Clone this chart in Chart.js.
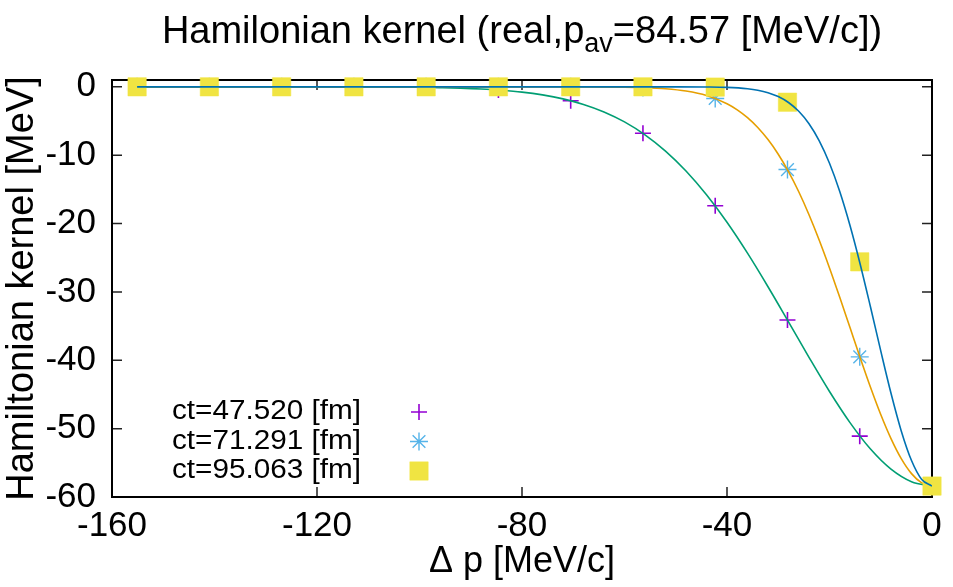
<!DOCTYPE html>
<html>
<head>
<meta charset="utf-8">
<title>Hamilonian kernel</title>
<script src="https://cdn.jsdelivr.net/npm/chart.js@4.4.0/dist/chart.umd.min.js"></script>
<style>
    html, body { margin: 0; padding: 0; background: #fff; }
    #wrap { width: 953px; height: 587px; position: relative; }
</style>
</head>
<body>
<div id="wrap"><canvas id="kernelChart"></canvas></div>
<script>
// ============================================================
// DATA
// ============================================================
const xTicks = [-160, -120, -80, -40, 0];
const yTicks = [0, -10, -20, -30, -40, -50, -60];

// momentum transfer of the sampled points
const pointX = [-155.1, -141.0, -126.9, -112.8, -98.7, -84.6, -70.5, -56.4, -42.3, -28.2, -14.1, 0];
const kernelCt1 = [0, 0, 0, -0.01, -0.08, -0.46, -2.03, -6.8, -17.4, -34.1, -51.1, -58.4];
const kernelCt2 = [0, 0, 0, 0, 0, 0, 0, -0.11, -1.7, -12.1, -39.5, -58.4];
const kernelCt3 = [0, 0, 0, 0, 0, 0, 0, 0, -0.04, -2.25, -25.6, -58.4];

// fitted curves
const fitX1 = [-155.1, -140, -120, -110, -100, -96, -92, -88, -84, -80, -76, -72, -68, -64, -60,
    -56, -52, -48, -44, -40, -36, -32, -28, -24, -20, -16, -12, -8, -4, 0];
const fitY1 = [0, 0, 0, -0.02, -0.07, -0.12, -0.19, -0.31, -0.50, -0.77, -1.18, -1.76, -2.57, -3.67, -5.13,
    -7.02, -9.40, -12.31, -15.79, -19.81, -24.33, -29.24, -34.38, -39.57, -44.57, -49.12, -52.99, -55.93, -57.77, -58.4];

const fitX2 = [-155.1, -100, -70, -60, -56, -52, -48, -44, -40, -38, -36, -34, -32, -30, -28,
    -26, -24, -22, -20, -18, -16, -14, -12, -10, -8, -6, -4, -2, 0];
const fitY2 = [0, 0, 0, -0.05, -0.12, -0.28, -0.62, -1.27, -2.47, -3.37, -4.51, -5.95, -7.72, -9.86, -12.40,
    -15.35, -18.71, -22.44, -26.49, -30.79, -35.22, -39.65, -43.94, -47.93, -51.46, -54.39, -56.58, -57.94, -58.4];

const fitX3 = [-155.1, -100, -60, -50, -44, -40, -36, -34, -32, -30, -28, -26, -24, -22, -20,
    -18, -16, -14, -12, -10, -8, -6, -4, -2, 0];
const fitY3 = [0, 0, 0, 0, -0.02, -0.08, -0.28, -0.49, -0.85, -1.42, -2.29, -3.58, -5.40, -7.90, -11.18,
    -15.31, -20.28, -25.98, -32.21, -38.63, -44.83, -50.33, -54.66, -57.44, -58.4];

const seriesLabels = ['ct=47.520 [fm]', 'ct=71.291 [fm]', 'ct=95.063 [fm]'];

// ============================================================
// STYLE
// ============================================================
const FONT = "'Liberation Sans', Arial, Helvetica, sans-serif";
const colors = {
    purple: '#9400d3',
    green: '#009e73',
    skyblue: '#56b4e9',
    orange: '#e69f00',
    yellow: '#f0e442',
    blue: '#0072b2'
};

function toPoints(xs, ys) {
    return xs.map((x, i) => ({ x: x, y: ys[i] }));
}

function pointSet(label, ys, style, color, radius, width, order) {
    return {
        label: label,
        data: toPoints(pointX, ys),
        showLine: false,
        pointStyle: style,
        pointRadius: radius,
        pointBackgroundColor: color,
        pointBorderColor: color,
        pointBorderWidth: width,
        clip: false,
        order: order
    };
}

function curveSet(xs, ys, color, order) {
    return {
        label: '',
        data: toPoints(xs, ys),
        showLine: true,
        borderColor: color,
        borderWidth: 1.6,
        pointRadius: 0,
        cubicInterpolationMode: 'monotone',
        fill: false,
        order: order
    };
}

// legend symbols, same look as the datasets
const legendMarks = [
    { pointStyle: 'cross', radius: 8, borderWidth: 1.6, color: colors.purple },
    { pointStyle: 'star', radius: 9, borderWidth: 1.4, color: colors.skyblue },
    { pointStyle: 'rect', radius: 13, borderWidth: 0.5, color: colors.yellow }
];

// ============================================================
// PLUGINS
// ============================================================
// gnuplot-like frame with inward ticks on all four sides
const frameTicks = {
    id: 'frameTicks',
    beforeDatasetsDraw(chart) {
        const { ctx, chartArea: a, scales } = chart;
        const len = 10;
        ctx.save();
        ctx.strokeStyle = '#222';
        ctx.lineWidth = 1.5;
        ctx.beginPath();
        scales.x.ticks.forEach(t => {
            const px = scales.x.getPixelForValue(t.value);
            ctx.moveTo(px, a.bottom);
            ctx.lineTo(px, a.bottom - len);
            ctx.moveTo(px, a.top);
            ctx.lineTo(px, a.top + len);
        });
        scales.y.ticks.forEach(t => {
            const py = scales.y.getPixelForValue(t.value);
            ctx.moveTo(a.left, py);
            ctx.lineTo(a.left + len, py);
            ctx.moveTo(a.right, py);
            ctx.lineTo(a.right - len, py);
        });
        ctx.stroke();
        ctx.strokeStyle = '#000';
        ctx.lineWidth = 2;
        ctx.strokeRect(a.left, a.top, a.right - a.left, a.bottom - a.top);
        ctx.restore();
    }
};

// title with subscript p_av
const kernelTitle = {
    id: 'kernelTitle',
    afterDraw(chart) {
        const { ctx, chartArea: a } = chart;
        const mainFont = '38px ' + FONT;
        const subFont = '27px ' + FONT;
        const part1 = 'Hamilonian kernel (real,p';
        const sub = 'av';
        const part2 = '=84.57 [MeV/c])';
        ctx.save();
        ctx.fillStyle = '#000';
        ctx.textBaseline = 'alphabetic';
        ctx.textAlign = 'left';
        ctx.font = mainFont;
        const w1 = ctx.measureText(part1).width;
        const w3 = ctx.measureText(part2).width;
        ctx.font = subFont;
        const w2 = ctx.measureText(sub).width;
        let x = (a.left + a.right) / 2 - (w1 + w2 + w3) / 2;
        const base = 43;
        ctx.font = mainFont;
        ctx.fillText(part1, x, base);
        x += w1;
        ctx.font = subFont;
        ctx.fillText(sub, x, base + 9);
        x += w2;
        ctx.font = mainFont;
        ctx.fillText(part2, x, base);
        ctx.restore();
    }
};

// key in the lower left corner: text right-aligned, symbol to the right
const kernelKey = {
    id: 'kernelKey',
    afterDatasetsDraw(chart) {
        const { ctx } = chart;
        const rows = [412, 441.5, 471];
        const textRight = 361;
        const markX = 419;
        ctx.save();
        seriesLabels.forEach((label, i) => {
            ctx.save();
            ctx.font = '27px ' + FONT;
            ctx.fillStyle = '#000';
            ctx.textAlign = 'right';
            ctx.textBaseline = 'middle';
            ctx.translate(textRight, rows[i]);
            ctx.scale(1.1, 1);
            ctx.fillText(label, 0, 0);
            ctx.restore();

            const m = legendMarks[i];
            ctx.fillStyle = m.color;
            ctx.strokeStyle = m.color;
            ctx.lineWidth = m.borderWidth;
            Chart.helpers.drawPoint(ctx, {
                pointStyle: m.pointStyle,
                radius: m.radius,
                borderWidth: m.borderWidth,
                rotation: 0
            }, markX, rows[i]);
        });
        ctx.restore();
    }
};

// ============================================================
// CHART
// ============================================================
document.addEventListener('DOMContentLoaded', function() {
    initKernelChart();
});

function initKernelChart() {
    const ctx = document.getElementById('kernelChart');
    if (!ctx) return;

    new Chart(ctx, {
        type: 'scatter',
        data: {
            datasets: [
                pointSet(seriesLabels[0], kernelCt1, 'cross', colors.purple, 8, 1.6, 6),
                curveSet(fitX1, fitY1, colors.green, 5),
                pointSet(seriesLabels[1], kernelCt2, 'star', colors.skyblue, 9, 1.4, 4),
                curveSet(fitX2, fitY2, colors.orange, 3),
                pointSet(seriesLabels[2], kernelCt3, 'rect', colors.yellow, 13, 0.5, 2),
                curveSet(fitX3, fitY3, colors.blue, 1)
            ]
        },
        options: {
            responsive: true,
            maintainAspectRatio: false,
            animation: false,
            layout: {
                padding: { left: 0, right: 21, top: 80, bottom: 0 }
            },
            plugins: {
                legend: { display: false },
                tooltip: { enabled: false },
                title: { display: false }
            },
            scales: {
                x: {
                    type: 'linear',
                    min: -160,
                    max: 0,
                    afterBuildTicks: s => { s.ticks = xTicks.map(v => ({ value: v })); },
                    afterFit: s => { s.height = 90; },
                    grid: { display: false, drawTicks: false },
                    border: { display: false },
                    ticks: {
                        font: { family: FONT, size: 35 },
                        color: '#000',
                        padding: 8,
                        maxRotation: 0,
                        autoSkip: false,
                        callback: v => String(v)
                    },
                    title: {
                        display: true,
                        text: 'Δ p [MeV/c]',
                        font: { family: FONT, size: 36 },
                        color: '#000',
                        padding: { top: 0, bottom: 3 }
                    }
                },
                y: {
                    type: 'linear',
                    min: -60,
                    max: 1,
                    afterBuildTicks: s => { s.ticks = yTicks.map(v => ({ value: v })); },
                    afterFit: s => { s.width = 112; },
                    grid: { display: false, drawTicks: false },
                    border: { display: false },
                    ticks: {
                        font: { family: FONT, size: 35 },
                        color: '#000',
                        padding: 16,
                        autoSkip: false,
                        callback: v => String(v)
                    },
                    title: {
                        display: true,
                        text: 'Hamiltonian kernel [MeV]',
                        font: { family: FONT, size: 38 },
                        color: '#000',
                        padding: { top: 0, bottom: 0 }
                    }
                }
            }
        },
        plugins: [frameTicks, kernelKey, kernelTitle]
    });
}
</script>
</body>
</html>
